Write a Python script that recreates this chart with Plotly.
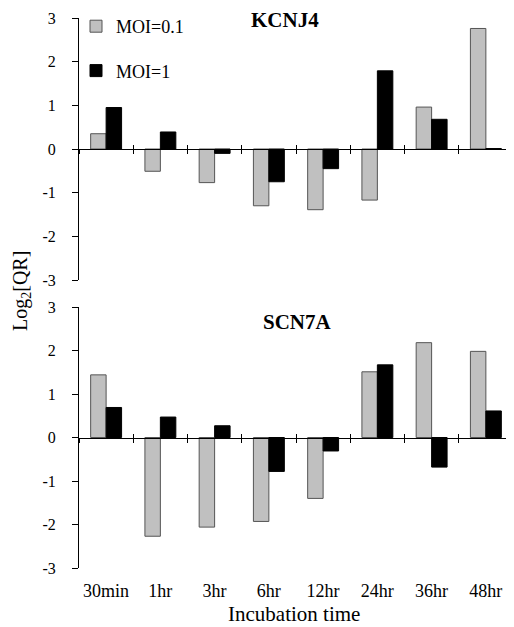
import plotly.graph_objects as go

categories = ["30min", "1hr", "3hr", "6hr", "12hr", "24hr", "36hr", "48hr"]
kcnj4_moi01 = [0.35, -0.51, -0.77, -1.30, -1.39, -1.17, 0.96, 2.76]
kcnj4_moi1 = [0.95, 0.39, -0.10, -0.75, -0.45, 1.79, 0.68, 0.01]
scn7a_moi01 = [1.44, -2.27, -2.06, -1.93, -1.40, 1.51, 2.18, 1.98]
scn7a_moi1 = [0.69, 0.47, 0.27, -0.78, -0.31, 1.67, -0.68, 0.61]
y_ticks = [-3, -2, -1, 0, 1, 2, 3]

xpos = list(range(len(categories)))
bounds = [i - 0.5 for i in range(len(categories) + 1)]

W, H, OFF = 514, 627, 8


def px(X):
    return (X - OFF) / W


def py(Y):
    return 1 - (Y - OFF) / H


FONT = "Times New Roman, Liberation Serif, DejaVu Serif, serif"
gray = dict(color="#c0c0c0", line=dict(color="#555555", width=1))
black = dict(color="#000000", line=dict(color="#000000", width=1))

fig = go.Figure()
fig.add_trace(go.Bar(x=xpos, y=kcnj4_moi01, name="MOI=0.1", marker=gray,
                     xaxis="x", yaxis="y", legendgroup="a"))
fig.add_trace(go.Bar(x=xpos, y=kcnj4_moi1, name="MOI=1", marker=black,
                     xaxis="x", yaxis="y", legendgroup="b"))
fig.add_trace(go.Bar(x=xpos, y=scn7a_moi01, name="MOI=0.1", marker=gray,
                     xaxis="x2", yaxis="y2", showlegend=False))
fig.add_trace(go.Bar(x=xpos, y=scn7a_moi1, name="MOI=1", marker=black,
                     xaxis="x2", yaxis="y2", showlegend=False))
# invisible traces so that the overlay axes render
for ax in ["x3", "x4", "x5"]:
    fig.add_trace(go.Scatter(x=[0], y=[0], mode="markers", marker=dict(opacity=0),
                             xaxis=ax, yaxis="y" if ax == "x3" else "y2",
                             showlegend=False, hoverinfo="skip"))

xdom = [px(79), px(513)]
ytop = [py(280), py(18)]
ybot = [py(568), py(307)]
mid_top = (ytop[0] + ytop[1]) / 2
mid_bot = (ybot[0] + ybot[1]) / 2

line_axis = dict(range=[-0.5, 7.5], domain=xdom, tickvals=bounds, showticklabels=False,
                 showline=True, linecolor="black", linewidth=1, tickcolor="black",
                 ticklen=4, showgrid=False, zeroline=False, automargin=False)
yaxis_common = dict(range=[-3, 3], tickvals=y_ticks, ticktext=[str(v) for v in y_ticks],
                    ticks="outside", ticklen=6, tickcolor="black", showline=True,
                    linecolor="black", linewidth=1, showgrid=False, zeroline=False,
                    ticklabelstandoff=13,
                    tickfont=dict(family=FONT, size=16, color="black"), automargin=False)

fig.update_layout(
    width=W, height=H,
    margin=dict(l=0, r=0, t=0, b=0),
    paper_bgcolor="white", plot_bgcolor="white",
    barmode="group", bargap=0.43, bargroupgap=0,
    font=dict(family=FONT, color="black"),
    xaxis=dict(line_axis, anchor="free", position=mid_top, ticks="outside"),
    xaxis3=dict(line_axis, anchor="free", position=mid_top, ticks="inside", overlaying="x"),
    xaxis2=dict(line_axis, anchor="free", position=mid_bot, ticks="outside"),
    xaxis4=dict(line_axis, anchor="free", position=mid_bot, ticks="inside", overlaying="x2"),
    xaxis5=dict(range=[-0.5, 7.5], domain=xdom, anchor="y2", overlaying="x2",
                tickvals=xpos, ticktext=categories, ticks="outside", ticklen=6,
                tickcolor="rgba(0,0,0,0)", showline=False,
                showgrid=False, zeroline=False, automargin=False,
                tickfont=dict(family=FONT, size=18, color="black")),
    yaxis=dict(yaxis_common, domain=ytop, anchor="x"),
    yaxis2=dict(yaxis_common, domain=ybot, anchor="x2"),
    legend=dict(x=px(76), y=1, xanchor="left", yanchor="top",
                bgcolor="rgba(0,0,0,0)", font=dict(family=FONT, size=18, color="black"),
                tracegroupgap=18, itemwidth=30),
    annotations=[
        dict(text="<b>KCNJ4</b>", x=px(285), y=py(20), xref="paper", yref="paper",
             xanchor="center", yanchor="middle",
             showarrow=False, font=dict(family=FONT, size=21, color="black")),
        dict(text="<b>SCN7A</b>", x=px(297), y=py(322), xref="paper", yref="paper",
             xanchor="center", yanchor="middle",
             showarrow=False, font=dict(family=FONT, size=21, color="black")),
        dict(text="Log<sub>2</sub>[QR]", x=px(22), y=py(291), xref="paper", yref="paper",
             xanchor="center", yanchor="middle",
             showarrow=False, textangle=-90, font=dict(family=FONT, size=20, color="black")),
        dict(text="Incubation time", x=px(294), y=py(614), xref="paper", yref="paper",
             xanchor="center", yanchor="middle",
             showarrow=False, font=dict(family=FONT, size=21, color="black")),
    ],
)

fig.write_html("out.html")
